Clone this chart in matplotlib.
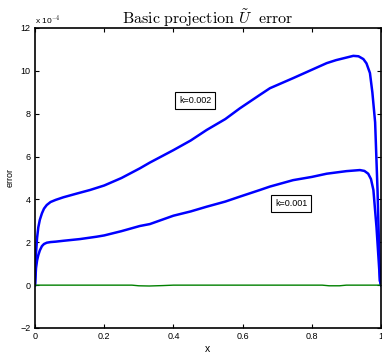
import matplotlib
matplotlib.use("Agg")
import matplotlib.pyplot as plt
import numpy as np

# values, error in units of 1e-4
x_k2 = [0.0, 0.003, 0.006, 0.0096, 0.014, 0.02, 0.026, 0.034, 0.045, 0.06, 0.082, 0.12, 0.159,
        0.2, 0.25, 0.303, 0.332, 0.4, 0.45, 0.496, 0.55, 0.592, 0.65, 0.679, 0.746, 0.8,
        0.843, 0.87, 0.9, 0.92, 0.935, 0.949, 0.958, 0.968, 0.975, 0.983, 0.99, 0.997, 1.0]
err_k2 = [0.0, 1.5, 2.2, 2.7, 3.05, 3.35, 3.57, 3.74, 3.88, 3.98, 4.1, 4.27, 4.44,
          4.65, 5.0, 5.45, 5.72, 6.3, 6.75, 7.24, 7.75, 8.25, 8.88, 9.19, 9.66, 10.05,
          10.36, 10.5, 10.62, 10.7, 10.68, 10.55, 10.35, 9.9, 9.0, 7.6, 4.4, 0.2, 0.0]

x_k1 = [0.0, 0.003, 0.006, 0.0096, 0.014, 0.02, 0.026, 0.034, 0.045, 0.06, 0.082, 0.13, 0.178,
        0.2, 0.25, 0.303, 0.332, 0.4, 0.45, 0.496, 0.55, 0.592, 0.65, 0.679, 0.746, 0.8,
        0.843, 0.9, 0.939, 0.952, 0.963, 0.971, 0.978, 0.987, 0.997, 1.0]
err_k1 = [0.0, 0.8, 1.15, 1.4, 1.62, 1.82, 1.92, 1.98, 2.01, 2.03, 2.07, 2.15, 2.26,
          2.32, 2.52, 2.76, 2.85, 3.24, 3.44, 3.66, 3.9, 4.13, 4.44, 4.6, 4.9, 5.05,
          5.2, 5.32, 5.37, 5.33, 5.2, 4.95, 4.44, 2.7, 0.2, 0.0]

x_basic = [0.0, 0.28, 0.3, 0.33, 0.37, 0.4, 0.83, 0.85, 0.88, 0.9, 1.0]
err_basic = [0.0, 0.0, -0.03, -0.04, -0.02, 0.0, 0.0, -0.03, -0.03, 0.0, 0.0]

labels = ["k=0.002", "k=0.001"]
label_pos = [(0.463, 8.6), (0.74, 3.8)]

plt.rcParams["mathtext.fontset"] = "cm"
plt.rcParams["font.family"] = ["Liberation Sans", "DejaVu Sans"]

fig = plt.figure(figsize=(3.82, 3.58), dpi=100)
ax = fig.add_axes([0.0916, 0.0838, 0.9058, 0.838])

ax.plot(x_k2, err_k2, color=(0, 0, 1), lw=1.8)
ax.plot(x_k1, err_k1, color=(0, 0, 1), lw=1.8)
ax.plot(x_basic, err_basic, color=(0, 0.5, 0), lw=1.0)

for txt, (tx, ty) in zip(labels, label_pos):
	ax.text(tx, ty, txt, fontsize=6.5, ha="center", va="center",
			bbox=dict(boxstyle="square,pad=0.45", fc="white", ec="black", lw=0.8))

ax.set_xlim(0, 1)
ax.set_ylim(-2, 12)
ax.set_xticks([0, 0.2, 0.4, 0.6, 0.8, 1])
ax.set_xticklabels(["0", "0.2", "0.4", "0.6", "0.8", "1"])
ax.set_yticks([-2, 0, 2, 4, 6, 8, 10, 12])
ax.tick_params(direction="in", top=True, right=True, labelsize=6.5, length=3, width=0.8, pad=3)
for s in ax.spines.values():
	s.set_linewidth(1.2)

ax.set_xlabel("x", fontsize=7.5, labelpad=2)
ax.set_ylabel("error", fontsize=6.5, labelpad=4)
ax.set_title(r"$\mathrm{Basic\ projection}\ \tilde{U}\ \ \mathrm{error}$", fontsize=11.5, pad=3)
ax.text(0.0, 1.005, r"x 10$^{-4}$", transform=ax.transAxes, fontsize=6, ha="left", va="bottom")

fig.savefig("out.png", dpi=100)
